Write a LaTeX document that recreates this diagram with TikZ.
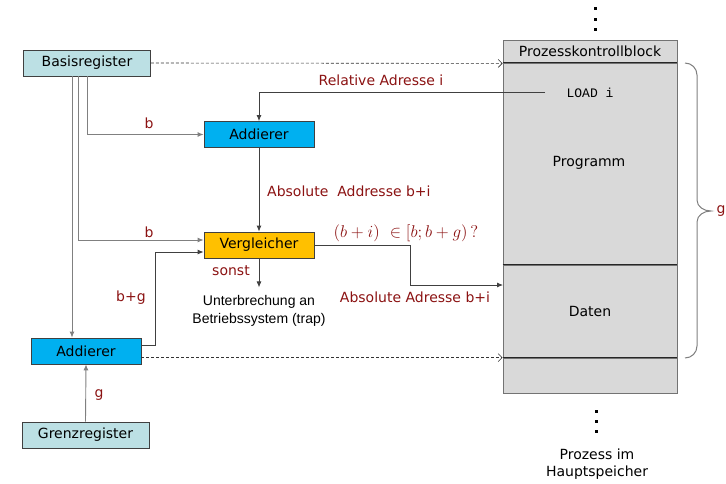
\documentclass[tikz,border=0pt]{standalone}
\usepackage{graphicx}
\usepackage{fontspec}
\setmainfont{DejaVu Sans}
\newfontfamily\arialf{Liberation Sans}
\newfontfamily\monof{Liberation Mono}
\usetikzlibrary{arrows.meta}
\definecolor{regfill}{RGB}{188,224,228}
\definecolor{addfill}{RGB}{0,176,240}
\definecolor{verfill}{RGB}{255,192,0}
\definecolor{memfill}{RGB}{217,217,217}
\definecolor{dred}{RGB}{139,18,18}
\begin{document}
\begin{tikzpicture}[x=1pt,y=-1pt,
  txt/.style={font=\fontsize{14}{17}\selectfont},
  box/.style={draw=black!75, line width=0.8pt, minimum height=26, inner sep=0, txt},
  reg/.style={box, fill=regfill, minimum width=127},
  addbox/.style={box, fill=addfill, minimum width=110},
  verbox/.style={box, fill=verfill, minimum width=110},
  mem/.style={draw=black!55, line width=0.8pt, fill=memfill, minimum width=174, inner sep=0, txt},
  sep/.style={draw=black!85, line width=0.5pt},
  lbl/.style={text=dred, inner sep=0, txt},
  conn/.style={draw=black!75, line width=0.8pt, -{Latex[length=6pt,width=5pt]}},
  gconn/.style={draw=black!50, line width=0.9pt, -{Latex[length=6pt,width=5pt]}},
  dconn/.style={draw=black!80, line width=0.6pt, dash pattern=on 3pt off 2pt, -{Straight Barb[length=4pt,width=8pt]}},
  dotsq/.style={fill=black}
]
\useasboundingbox (0,0) rectangle (726,483);

% memory block
\node[mem, minimum height=23] (pkb) at (590,51.5) {Prozesskontrollblock};
\node[mem, minimum height=202] (prog) at (590,164) {};
\node[mem, minimum height=93] (daten) at (590,311.5) {Daten};
\node[mem, minimum height=35] (rest) at (590,375.5) {};
\draw[sep] (prog.north west) -- (prog.north east);
\draw[sep] (daten.north west) -- (daten.north east);
\draw[sep] (rest.north west) -- (rest.north east);
\node[txt, inner sep=0] (progtxt) at (589,163) {Programm};
\node[inner sep=0, font=\monof\fontsize{13}{15}\selectfont] (load) at (590,93) {LOAD i};
\coordinate (loadin) at (545,92);
\coordinate (dIn) at (503,285);

% dots
\foreach \yy in {8,19,29} \fill[dotsq] (593.5,\yy-1.5) rectangle ++(3,3);
\foreach \yy in {411,421,431} \fill[dotsq] (594.5,\yy-1.5) rectangle ++(3,3);
\node[txt, align=center, inner sep=0] (proz) at (597,464) {Prozess im\\Hauptspeicher};

% brace
\draw[black!50, line width=1pt] (685,63) to[out=0,in=90] (697,75) -- (697,200)
  to[out=-90,in=180] (711,211) to[out=180,in=90] (697,222) -- (697,346)
  to[out=-90,in=0] (685,358);
\node[lbl] (glab) at (721,211) {g};

% boxes
\node[reg] (bas) at (87,63) {Basisregister};
\node[addbox] (add1) at (259,134.5) {Addierer};
\node[verbox] (ver) at (259,245) {Vergleicher};
\node[addbox] (add2) at (86,351) {Addierer};
\node[reg] (grenz) at (85.5,435) {Grenzregister};
\node[inner sep=0, align=center, font=\arialf\fontsize{14}{18}\selectfont] (trap) at (259,311) {Unterbrechung an\\Betriebssystem (trap)};

% connectors
\draw[dconn] (bas.east) -- (pkb.south west);
\draw[dconn] (rest.north west -| add2.east) -- (rest.north west);
\draw[conn] (loadin) -| (add1.north);
\draw[gconn] (bas.south) |- (add1.west);
\draw[gconn] ([xshift=-9]bas.south) |- ([yshift=5]ver.west);
\draw[gconn] ([xshift=-15]bas.south) -- ([xshift=-15]bas.south |- add2.north);
\draw[conn] (add1.south) -- (ver.north);
\draw[conn] ([yshift=6]add2.east) -- ++(14,0) |- ([yshift=-7]ver.west);
\draw[gconn] (grenz.north) -- (add2.south);
\draw[conn] (ver.east) -- ++(96,0) |- (dIn);
\draw[conn] (ver.south) -- ++(0,29);

% labels
\node[lbl] (l1) at (381,80) {Relative Adresse i};
\node[lbl] (l2) at (149,123) {b};
\node[lbl, anchor=west] (l3) at (267,191) {Absolute\ \ Addresse b+i};
\node[lbl] (l4) at (149,232) {b};
\node[lbl] (l5) at (406,233) {\scalebox{1.18}{$(b+i)\ \in[b;b+g)\,\mathbf{?}$}};
\node[lbl] (l6) at (231,271) {sonst};
\node[lbl] (l7) at (415,297) {Absolute Adresse b+i};
\node[lbl] (l8) at (131,298) {b+g};
\node[lbl] (l9) at (99,395) {g};
\end{tikzpicture}
\end{document}
